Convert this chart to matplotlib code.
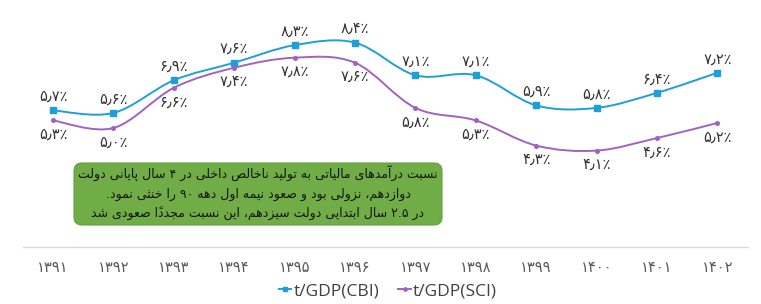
import re
import matplotlib
matplotlib.use('Agg')
import matplotlib.pyplot as plt
from matplotlib.path import Path
from matplotlib.patches import PathPatch, FancyBboxPatch
from matplotlib.lines import Line2D

# ---------------- data ----------------
years = ['۱۳۹۱', '۱۳۹۲', '۱۳۹۳', '۱۳۹۴', '۱۳۹۵', '۱۳۹۶',
         '۱۳۹۷', '۱۳۹۸', '۱۳۹۹', '۱۴۰۰', '۱۴۰۱', '۱۴۰۲']
cbi = [5.7, 5.6, 6.9, 7.6, 8.3, 8.4, 7.1, 7.1, 5.9, 5.8, 6.4, 7.2]
sci = [5.3, 5.0, 6.6, 7.4, 7.8, 7.6, 5.8, 5.3, 4.3, 4.1, 4.6, 5.2]
series_names = ['t/GDP(CBI)', 't/GDP(SCI)']
note_lines = [
    'نسبت درآمدهای مالیاتی به تولید ناخالص داخلی در ۴ سال پایانی دولت',
    'دوازدهم، نزولی بود و صعود نیمه اول دهه ۹۰ را خنثی نمود.',
    'در ۲.۵ سال ابتدایی دولت سیزدهم، این نسبت مجدداً صعودی شد',
]

CBI_COLOR = '#1E9FD8'
SCI_COLOR = '#A064C0'

# ---------------- Arabic/Persian shaping (matplotlib has no text shaping) ----------------
FORMS = {}
def _dual(ch, start):
    FORMS[ch] = tuple(chr(start + k) for k in range(4))
def _right(ch, start):
    FORMS[ch] = (chr(start), chr(start + 1), None, None)

for ch, st in [('\u0626', 0xFE89), ('\u0628', 0xFE8F), ('\u062A', 0xFE95), ('\u062B', 0xFE99),
               ('\u062C', 0xFE9D), ('\u062D', 0xFEA1), ('\u062E', 0xFEA5), ('\u0633', 0xFEB1),
               ('\u0634', 0xFEB5), ('\u0635', 0xFEB9), ('\u0636', 0xFEBD), ('\u0637', 0xFEC1),
               ('\u0638', 0xFEC5), ('\u0639', 0xFEC9), ('\u063A', 0xFECD), ('\u0641', 0xFED1),
               ('\u0642', 0xFED5), ('\u0643', 0xFED9), ('\u0644', 0xFEDD), ('\u0645', 0xFEE1),
               ('\u0646', 0xFEE5), ('\u0647', 0xFEE9), ('\u064A', 0xFEF1),
               ('\u067E', 0xFB56), ('\u0686', 0xFB7A), ('\u06A9', 0xFB8E), ('\u06AF', 0xFB92),
               ('\u06CC', 0xFBFC)]:
    _dual(ch, st)
for ch, st in [('\u0622', 0xFE81), ('\u0623', 0xFE83), ('\u0624', 0xFE85), ('\u0625', 0xFE87),
               ('\u0627', 0xFE8D), ('\u0629', 0xFE93), ('\u062F', 0xFEA9), ('\u0630', 0xFEAB),
               ('\u0631', 0xFEAD), ('\u0632', 0xFEAF), ('\u0648', 0xFEED), ('\u0649', 0xFEEF),
               ('\u0698', 0xFB8A)]:
    _right(ch, st)
LAMALEF = {'\u0622': ('\uFEF5', '\uFEF6'), '\u0623': ('\uFEF7', '\uFEF8'),
           '\u0625': ('\uFEF9', '\uFEFA'), '\u0627': ('\uFEFB', '\uFEFC')}
TRANSPARENT = set(chr(c) for c in range(0x064B, 0x0660)) | {'\u0670'}


def _shape(s):
    chars = list(s)
    n = len(chars)

    def next_joining(i):
        j = i + 1
        while j < n and chars[j] in TRANSPARENT:
            j += 1
        return j < n and chars[j] in FORMS

    res = []
    prev_conn = False
    i = 0
    while i < n:
        c = chars[i]
        if c in TRANSPARENT:
            res.append(c); i += 1; continue
        if c == '\u200c':
            prev_conn = False; i += 1; continue
        if c == '\u0644':
            j = i + 1
            while j < n and chars[j] in TRANSPARENT:
                j += 1
            if j < n and chars[j] in LAMALEF:
                iso, fin = LAMALEF[chars[j]]
                res.append(fin if prev_conn else iso)
                res.extend(chars[i + 1:j])
                prev_conn = False
                i = j + 1
                continue
        if c in FORMS:
            f = FORMS[c]
            if f[2] is not None:
                nxt = next_joining(i)
                if prev_conn and nxt:
                    g = f[3]
                elif prev_conn:
                    g = f[1]
                elif nxt:
                    g = f[2]
                else:
                    g = f[0]
                prev_conn = True
            else:
                g = f[1] if prev_conn else f[0]
                prev_conn = False
            res.append(g)
        else:
            res.append(c)
            prev_conn = False
        i += 1
    return ''.join(res)


def _rev_clusters(t):
    clusters = []
    for ch in t:
        if ch in TRANSPARENT and clusters:
            clusters[-1] += ch
        else:
            clusters.append(ch)
    return ''.join(reversed(clusters))


def rtl(s):
    shaped = _shape(s)
    parts = re.split(r'([0-9\u06F0-\u06F9]+(?:[.\u066B][0-9\u06F0-\u06F9]+)*)', shaped)
    out = []
    for k, p in enumerate(parts):
        if k % 2 == 1:
            out.append(p)
        else:
            out.append(_rev_clusters(p))
    return ''.join(reversed(out))


def fa_pct(v):
    s = f'{v:.1f}'
    s = s.translate(str.maketrans('0123456789', '۰۱۲۳۴۵۶۷۸۹')).replace('.', '\u066B')
    return s + '\u066A'


def smooth_path(xs, ys):
    # Catmull-Rom spline expressed as cubic Bezier segments
    pts = list(zip(xs, ys))
    verts = [pts[0]]
    codes = [Path.MOVETO]
    n = len(pts)
    for i in range(n - 1):
        p0 = pts[i - 1] if i > 0 else pts[i]
        p1 = pts[i]
        p2 = pts[i + 1]
        p3 = pts[i + 2] if i + 2 < n else pts[i + 1]
        c1 = (p1[0] + (p2[0] - p0[0]) / 6.0, p1[1] + (p2[1] - p0[1]) / 6.0)
        c2 = (p2[0] - (p3[0] - p1[0]) / 6.0, p2[1] - (p3[1] - p1[1]) / 6.0)
        verts += [c1, c2, p2]
        codes += [Path.CURVE4] * 3
    return Path(verts, codes)


# ---------------- figure ----------------
W, H = 761, 304
fig = plt.figure(figsize=(W / 100, H / 100), dpi=100)
ax = fig.add_axes([22.8 / W, (H - 247) / H, 724.8 / W, 237 / H])
x = list(range(len(years)))

for vals, col, mk, ms in [(cbi, CBI_COLOR, 's', 4.0), (sci, SCI_COLOR, 'o', 2.6)]:
    ax.add_patch(PathPatch(smooth_path(x, vals), facecolor='none', edgecolor=col,
                           lw=1.4, capstyle='round', zorder=3))
    ax.plot(x, vals, linestyle='none', marker=mk, ms=ms, color=col, zorder=4)

for xi, v in zip(x, cbi):
    ax.annotate(fa_pct(v), (xi, v), xytext=(0, 14), textcoords='offset pixels',
                ha='center', va='center', fontsize=10.5, color='#333333',
                family='DejaVu Sans')
for xi, v in zip(x, sci):
    ax.annotate(fa_pct(v), (xi, v), xytext=(0, -14), textcoords='offset pixels',
                ha='center', va='center', fontsize=10.5, color='#333333',
                family='DejaVu Sans')

ax.set_xlim(-0.5, len(years) - 0.5)
ax.set_ylim(0.26, 9.70)
ax.set_yticks([])
ax.set_xticks(x)
ax.set_xticklabels(years, fontsize=10.5, color='#595959', family='DejaVu Sans')
ax.tick_params(axis='x', length=0, pad=9)
for side in ['top', 'left', 'right']:
    ax.spines[side].set_visible(False)
ax.spines['bottom'].set_color('#D9D9D9')
ax.spines['bottom'].set_linewidth(1.0)
ax.patch.set_visible(False)

# ---------------- green note box ----------------
box = FancyBboxPatch((0.74, 0.79), 3.68, 0.62, boxstyle='round,pad=0,rounding_size=0.08',
                     transform=fig.dpi_scale_trans, facecolor='#70AD47',
                     edgecolor='#64A13E', lw=0.8, zorder=5)
fig.add_artist(box)
cx = (74 + 442) / 2 / W
for txt, ypx in zip(note_lines, [173, 194, 213]):
    fig.text(cx, (H - ypx) / H, rtl(txt), ha='center', va='center', fontsize=9.0,
             color='#141414', family='DejaVu Sans', zorder=6)

# ---------------- legend ----------------
handles = [Line2D([], [], color=CBI_COLOR, lw=1.4, marker='s', ms=3.5),
           Line2D([], [], color=SCI_COLOR, lw=1.4, marker='o', ms=2.4)]
fig.legend(handles, series_names, loc='center', bbox_to_anchor=(388 / W, 13 / H),
           ncol=2, frameon=False, handlelength=0.7, handletextpad=0.15,
           columnspacing=1.1, prop={'family': ['Open Sans', 'DejaVu Sans'], 'size': 12.5},
           labelcolor='#404040')

fig.savefig('out.png', dpi=100)
